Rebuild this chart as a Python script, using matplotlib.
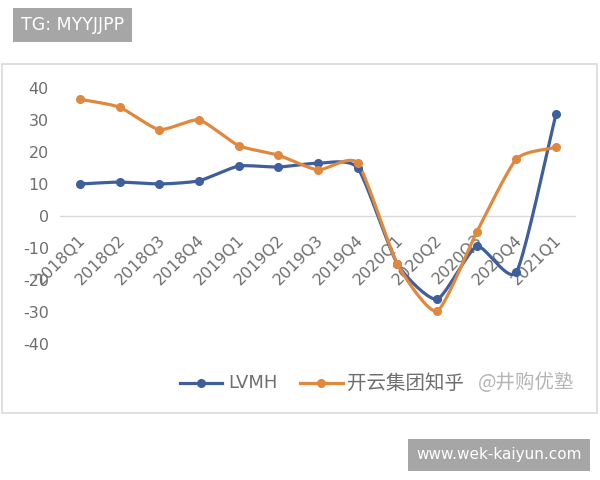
import numpy as np
import matplotlib
matplotlib.use("Agg")
import matplotlib.pyplot as plt
from matplotlib.patches import Rectangle

plt.rcParams['font.family'] = ['Noto Sans CJK SC', 'DejaVu Sans']

quarters = ['2018Q1', '2018Q2', '2018Q3', '2018Q4', '2019Q1', '2019Q2', '2019Q3',
            '2019Q4', '2020Q1', '2020Q2', '2020Q3', '2020Q4', '2021Q1']
lvmh = [10, 10.6, 10, 11, 15.6, 15.3, 16.5, 15, -15, -26, -9.5, -17.5, 32]
kering = [36.5, 34, 27, 30, 22, 19, 14.4, 16.5, -15, -29.7, -5, 17.8, 21.5]
y_ticks = [40, 30, 20, 10, 0, -10, -20, -30, -40]

BLUE = '#3f5e9c'
ORANGE = '#e0883d'
GRAY_TXT = '#6e6e6e'


def smooth(x, y, k=0.3, n=20):
    # cardinal spline through the points, a soft version of Excel's smoothed line
    x = np.asarray(x, float)
    y = np.asarray(y, float)
    px = np.concatenate([[2 * x[0] - x[1]], x, [2 * x[-1] - x[-2]]])
    py = np.concatenate([[2 * y[0] - y[1]], y, [2 * y[-1] - y[-2]]])
    xs, ys = [], []
    t = np.linspace(0, 1, n, endpoint=False)
    h00 = 2 * t ** 3 - 3 * t ** 2 + 1
    h10 = t ** 3 - 2 * t ** 2 + t
    h01 = -2 * t ** 3 + 3 * t ** 2
    h11 = t ** 3 - t ** 2
    for i in range(1, len(px) - 2):
        for p, out in ((px, xs), (py, ys)):
            m1 = k * (p[i + 1] - p[i - 1])
            m2 = k * (p[i + 2] - p[i])
            out.extend(h00 * p[i] + h10 * m1 + h01 * p[i + 1] + h11 * m2)
    xs.append(x[-1])
    ys.append(y[-1])
    return np.array(xs), np.array(ys)


fig = plt.figure(figsize=(6, 4.8), dpi=100)

# chart frame
fig.patches.append(Rectangle((2 / 600, 1 - 413 / 480), 595 / 600, 349 / 480,
                             transform=fig.transFigure, fill=False,
                             edgecolor='#d9d9d9', linewidth=1.2))

ax = fig.add_axes([60 / 600, 1 - 344 / 480, 516 / 600, 256 / 480])
x = np.arange(len(quarters))
ax.set_xlim(-0.5, len(quarters) - 0.5)
ax.set_ylim(-40, 40)
ax.axhline(0, color='#d9d9d9', linewidth=1, zorder=1)

for vals, col in ((lvmh, BLUE), (kering, ORANGE)):
    sx, sy = smooth(x, vals)
    ax.plot(sx, sy, color=col, linewidth=2.3, clip_on=False, zorder=3)
    ax.plot(x, vals, 'o', color=col, markersize=5.5, clip_on=False, zorder=4)

for s in ax.spines.values():
    s.set_visible(False)
ax.set_xticks([])
ax.set_yticks(y_ticks)
ax.set_yticklabels([str(v) for v in y_ticks], color=GRAY_TXT, fontsize=11.5,
                   family='DejaVu Sans')
ax.tick_params(axis='y', length=0, pad=8)

# category labels hang from the zero line
for i, q in enumerate(quarters):
    ax.text(i - 0.05, -5.0, q, rotation=45, rotation_mode='anchor', ha='right',
            va='top', fontsize=11.5, color=GRAY_TXT, family='DejaVu Sans', zorder=2)

# legend
ly = 1 - 383 / 480
fig.lines.append(plt.Line2D([180 / 600, 222 / 600], [ly, ly], color=BLUE, linewidth=2.3,
                            transform=fig.transFigure))
fig.lines.append(plt.Line2D([201 / 600], [ly], color=BLUE, marker='o', markersize=5.5,
                            transform=fig.transFigure))
fig.text(228 / 600, ly, 'LVMH', color=GRAY_TXT, fontsize=13, va='center',
         family='DejaVu Sans')
fig.lines.append(plt.Line2D([300 / 600, 343 / 600], [ly, ly], color=ORANGE, linewidth=2.3,
                            transform=fig.transFigure))
fig.lines.append(plt.Line2D([321 / 600], [ly], color=ORANGE, marker='o', markersize=5.5,
                            transform=fig.transFigure))
fig.text(347 / 600, ly, '开云集团知乎', color=GRAY_TXT, fontsize=14, va='center')
fig.text(478 / 600, ly, '@井购优塾', color='#b5b5b5', fontsize=14, va='center')

# watermark boxes
fig.text(21 / 600, 1 - 25 / 480, 'TG: MYYJJPP', color='white', fontsize=12.5,
         va='center', ha='left', family='DejaVu Sans',
         bbox=dict(boxstyle='square,pad=0.45', facecolor='#a6a6a6', edgecolor='none'))
fig.text(499 / 600, 1 - 455 / 480, 'www.wek-kaiyun.com', color='white', fontsize=11,
         va='center', ha='center', family='DejaVu Sans',
         bbox=dict(boxstyle='square,pad=0.55', facecolor='#a6a6a6', edgecolor='none'))

fig.savefig('out.png', dpi=100)
